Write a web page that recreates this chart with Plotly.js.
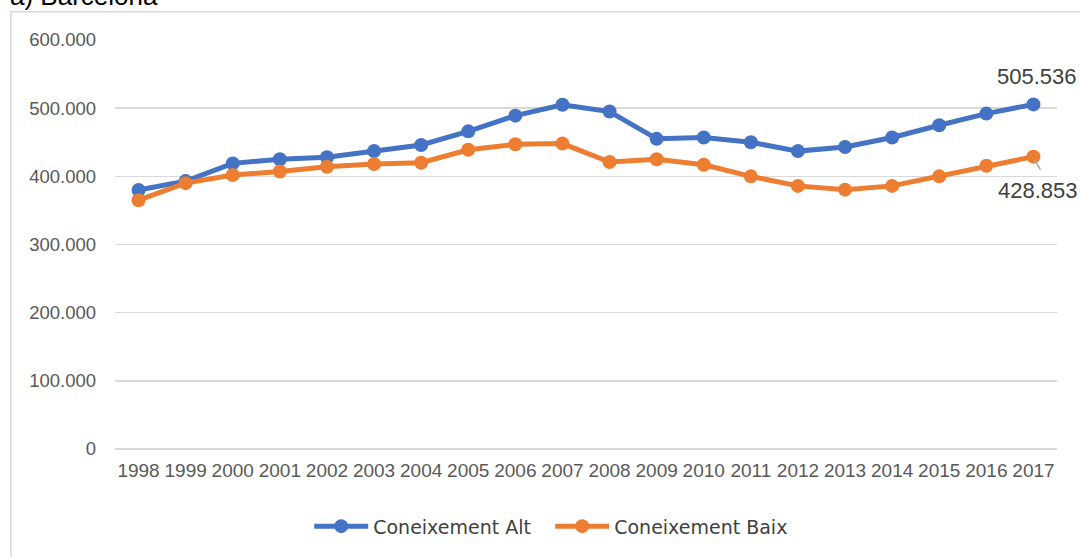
<!DOCTYPE html>
<html>
<head>
<meta charset="utf-8">
<script src="https://cdn.plot.ly/plotly-3.0.1.min.js"></script>
<style>html,body{margin:0;padding:0;background:#fff;}#chart{width:1080px;height:557px;}</style>
</head>
<body>
<div id="chart"></div>
<script>
const years = ['1998','1999','2000','2001','2002','2003','2004','2005','2006','2007','2008','2009','2010','2011','2012','2013','2014','2015','2016','2017'];
const coneixementAlt = [380000, 393000, 419000, 425000, 428000, 437000, 446000, 466000, 489000, 505000, 495000, 455000, 457000, 450000, 437000, 443000, 457000, 475000, 492000, 505536];
const coneixementBaix = [365000, 390000, 402000, 407000, 414000, 418000, 420000, 439000, 447000, 448000, 421000, 425000, 417000, 400000, 386000, 380500, 386000, 400000, 415500, 428853];
const seriesNames = ['Coneixement Alt', 'Coneixement Baix'];
const titleText = 'a) Barcelona';
const yTicks = [0, 100000, 200000, 300000, 400000, 500000, 600000];

const blue = '#4472C4', orange = '#ED7D31';
const last = years.length - 1;
function fmt(v) { return String(v).replace(/\B(?=(\d{3})+(?!\d))/g, '.'); }

const traces = [
  {x: years, y: coneixementAlt, name: seriesNames[0], type: 'scatter', mode: 'lines+markers',
   line: {color: blue, width: 5}, marker: {color: blue, size: 14}, cliponaxis: false, hoverinfo: 'skip'},
  {x: years, y: coneixementBaix, name: seriesNames[1], type: 'scatter', mode: 'lines+markers',
   line: {color: orange, width: 5}, marker: {color: orange, size: 14}, cliponaxis: false, hoverinfo: 'skip'}
];

const layout = {
  width: 1080, height: 557,
  margin: {l: 115, r: 23, t: 40, b: 105, pad: 0},
  paper_bgcolor: '#fff', plot_bgcolor: '#fff',
  separators: ',.',
  showlegend: true,
  xaxis: {type: 'category', range: [-0.5, 19.5], showgrid: false, showline: false, zeroline: false,
          ticks: '', tickfont: {family: 'Liberation Sans, Arial, sans-serif', size: 19, color: '#595959'},
          ticklabelstandoff: 8, fixedrange: true},
  yaxis: {range: [0, 600000], tickvals: yTicks, tickformat: ',', showline: false,
          gridcolor: '#d9d9d9', gridwidth: 1.5, zeroline: true, zerolinecolor: '#d9d9d9', zerolinewidth: 1.5,
          ticks: '', tickfont: {family: 'Liberation Sans, Arial, sans-serif', size: 18.5, color: '#595959'},
          ticklabelstandoff: 18, fixedrange: true},
  legend: {orientation: 'h', x: 0.462, xanchor: 'center', y: -0.189, yanchor: 'middle',
           font: {family: 'DejaVu Sans, sans-serif', size: 19, color: '#404040'}, itemwidth: 54,
           entrywidth: 172, entrywidthmode: 'pixels', bgcolor: 'rgba(0,0,0,0)'},
  annotations: [
    {text: titleText, xref: 'paper', yref: 'paper', x: -0.1136, y: 1.0655, xanchor: 'left', yanchor: 'bottom',
     showarrow: false, font: {family: 'Liberation Sans, Arial, sans-serif', size: 26, color: '#000'}},
    {text: fmt(coneixementAlt[last]), xref: 'x', yref: 'y', x: last, y: coneixementAlt[last],
     xshift: 4, yshift: 28, showarrow: false, font: {family: 'Liberation Sans, Arial, sans-serif', size: 22, color: '#404040'}},
    {text: fmt(coneixementBaix[last]), xref: 'x', yref: 'y', x: last, y: coneixementBaix[last],
     xshift: 5, yshift: -33.5, showarrow: false, font: {family: 'Liberation Sans, Arial, sans-serif', size: 22, color: '#404040'}}
  ],
  shapes: [
    {type: 'rect', xref: 'paper', yref: 'paper', x0: -0.1105, x1: 1.5, y0: -1, y1: 1.069,
     line: {color: '#d9d9d9', width: 1.5}, fillcolor: 'rgba(0,0,0,0)', layer: 'below'},
    {type: 'line', xref: 'x', yref: 'y', xsizemode: 'pixel', ysizemode: 'pixel',
     xanchor: last, yanchor: coneixementBaix[last], x0: 1, x1: 7, y0: -3, y1: -13,
     line: {color: '#a6a6a6', width: 1.5}}
  ]
};

Plotly.newPlot('chart', traces, layout, {staticPlot: true, displayModeBar: false});
</script>
</body>
</html>
